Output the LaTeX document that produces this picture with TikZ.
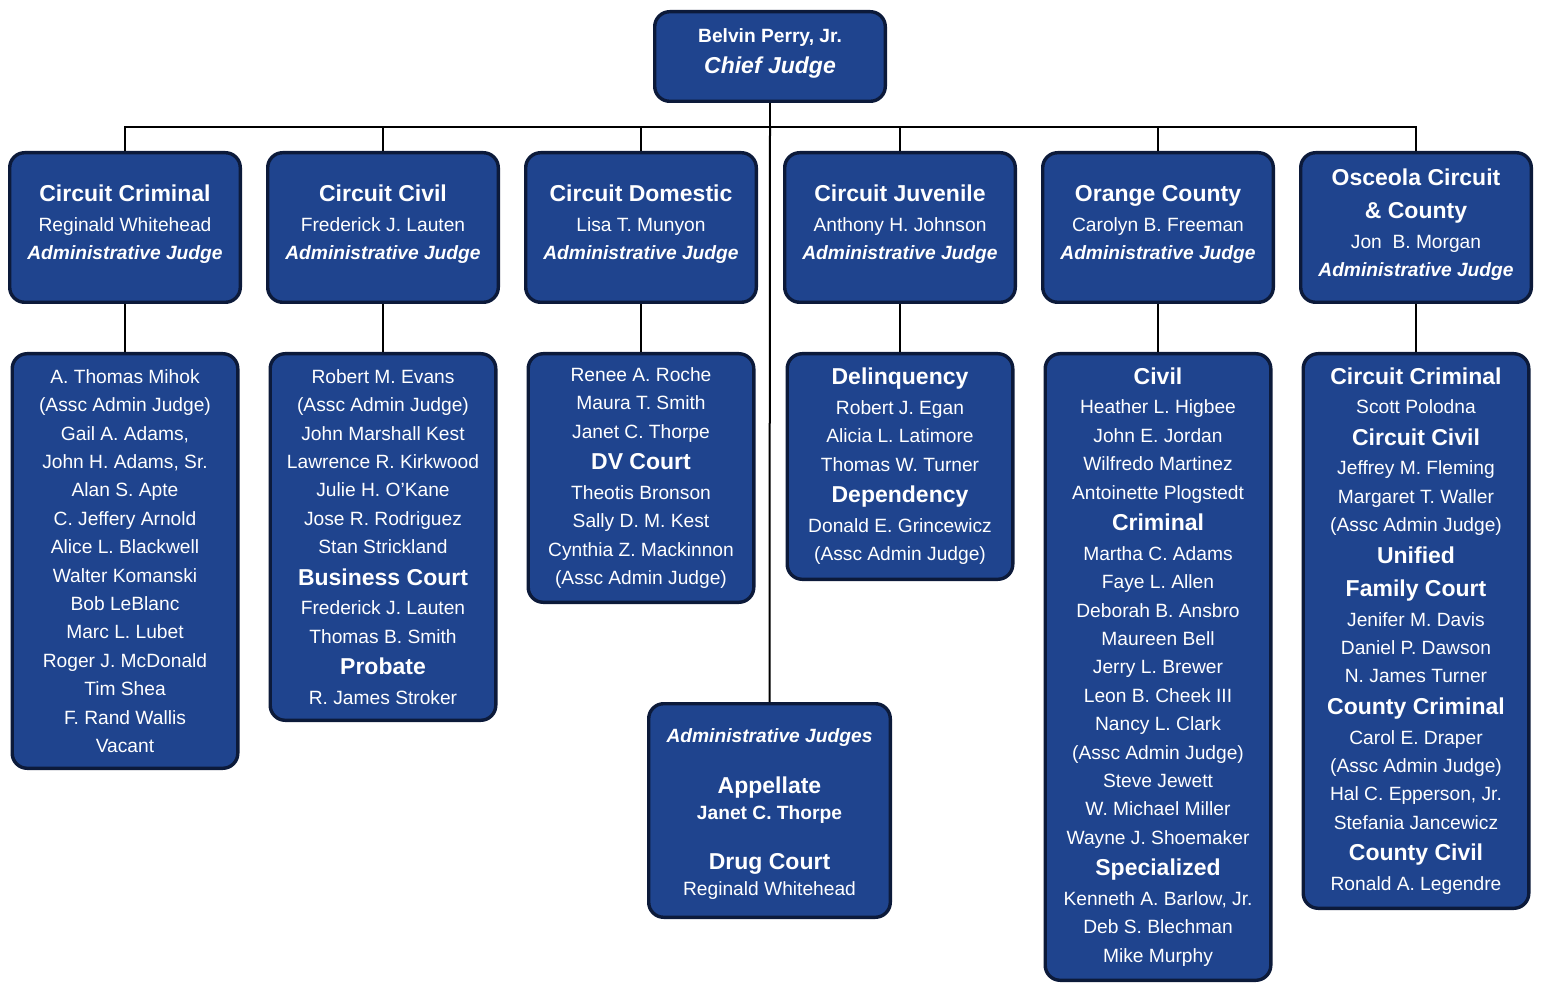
\documentclass[tikz,border=0pt]{standalone}
\usepackage{fontspec}
\setmainfont{Liberation Sans}
\definecolor{boxfill}{RGB}{31,68,142}
\definecolor{boxedge}{RGB}{12,26,58}
\newcommand{\court}[1]{{\bfseries\fontsize{11.5}{14.2}\selectfont #1}}
\newcommand{\admj}{\textbf{\textit{Administrative Judge}}}

\begin{document}
\begin{tikzpicture}[x=0.5pt,y=-0.5pt,
  judge/.style={draw=boxedge,fill=boxfill,text=white,rounded corners=7.5pt,
    line width=1.7pt,align=center,inner sep=2pt,
    font=\fontsize{9.6}{14.2}\selectfont},
  headbox/.style={judge,minimum width=115.3pt,minimum height=74.8pt,
    execute at end node={\rule[-5pt]{0pt}{0pt}}},
  listbox/.style={judge,minimum width=112.8pt},
  link/.style={line width=1pt}]
\useasboundingbox (0,0) rectangle (1543,984);

% chief judge
\node[judge,minimum width=115.3pt,minimum height=44.8pt] (chief) at (770,56.5)
  {\textbf{Belvin Perry, Jr.}\\[1.3pt]\court{\textit{Chief Judge}}\rule[-5pt]{0pt}{0pt}};
\coordinate (bus) at (770,127);

% administrative judges by division
\node[headbox] (ccrim) at (125,227.5) {\court{Circuit Criminal}\\[0.6pt]Reginald Whitehead\\\admj};
\node[headbox] (cciv) at (383,227.5) {\court{Circuit Civil}\\[0.6pt]Frederick J. Lauten\\\admj};
\node[headbox] (cdom) at (641,227.5) {\court{Circuit Domestic}\\[0.6pt]Lisa T. Munyon\\\admj};
\node[headbox] (cjuv) at (900,227.5) {\court{Circuit Juvenile}\\[0.6pt]Anthony H. Johnson\\\admj};
\node[headbox] (orange) at (1158,227.5) {\court{Orange County}\\[0.6pt]Carolyn B. Freeman\\\admj};
\node[headbox] (osceola) at (1416,227.5) {\court{Osceola Circuit}\\[2.4pt]\court{\& County}\\[0.6pt]Jon\ \ B. Morgan\\\admj};

% judges of each division
\node[listbox,minimum height=207.3pt] (ccrimj) at (125,561)
  {A. Thomas Mihok\\(Assc Admin Judge)\\Gail A. Adams,\\John H. Adams, Sr.\\Alan S. Apte\\C. Jeffery Arnold\\Alice L. Blackwell\\Walter Komanski\\Bob LeBlanc\\Marc L. Lubet\\Roger J. McDonald\\Tim Shea\\F. Rand Wallis\\Vacant};
\node[listbox,minimum height=183.3pt] (ccivj) at (383,537)
  {Robert M. Evans\\(Assc Admin Judge)\\John Marshall Kest\\Lawrence R. Kirkwood\\Julie H. O'Kane\\Jose R. Rodriguez\\Stan Strickland\\[1.6pt]\court{Business Court}\\[0.6pt]Frederick J. Lauten\\Thomas B. Smith\\[1.6pt]\court{Probate}\\[0.6pt]R. James Stroker};
\node[listbox,minimum height=124.3pt] (cdomj) at (641,478)
  {Renee A. Roche\\Maura T. Smith\\Janet C. Thorpe\\[1.6pt]\court{DV Court}\\[0.6pt]Theotis Bronson\\Sally D. M. Kest\\Cynthia Z. Mackinnon\\(Assc Admin Judge)};
\node[listbox,minimum height=112.8pt] (cjuvj) at (900,466.5)
  {\court{Delinquency}\\[0.6pt]Robert J. Egan\\Alicia L. Latimore\\Thomas W. Turner\\[1.6pt]\court{Dependency}\\[0.6pt]Donald E. Grincewicz\\(Assc Admin Judge)};
\node[listbox,minimum height=313.3pt] (orangej) at (1158,667)
  {\court{Civil}\\[0.6pt]Heather L. Higbee\\John E. Jordan\\Wilfredo Martinez\\Antoinette Plogstedt\\[1.6pt]\court{Criminal}\\[0.6pt]Martha C. Adams\\Faye L. Allen\\Deborah B. Ansbro\\Maureen Bell\\Jerry L. Brewer\\Leon B. Cheek III\\Nancy L. Clark\\(Assc Admin Judge)\\Steve Jewett\\W. Michael Miller\\Wayne J. Shoemaker\\[1.6pt]\court{Specialized}\\[0.6pt]Kenneth A. Barlow, Jr.\\Deb S. Blechman\\Mike Murphy};
\node[listbox,minimum height=277.3pt] (osceolaj) at (1416,631)
  {\court{Circuit Criminal}\\[0.6pt]Scott Polodna\\[1.6pt]\court{Circuit Civil}\\[0.6pt]Jeffrey M. Fleming\\Margaret T. Waller\\(Assc Admin Judge)\\[1.6pt]\court{Unified}\\[2.4pt]\court{Family Court}\\[0.6pt]Jenifer M. Davis\\Daniel P. Dawson\\N. James Turner\\[1.6pt]\court{County Criminal}\\[0.6pt]Carol E. Draper\\(Assc Admin Judge)\\Hal C. Epperson, Jr.\\Stefania Jancewicz\\[1.6pt]\court{County Civil}\\[0.6pt]Ronald A. Legendre};

\node[judge,minimum width=120.8pt,minimum height=106.8pt] (adm) at (769.5,810.5)
  {\rule{0pt}{10pt}\textbf{\textit{Administrative Judges}}\\[11.3pt]\court{Appellate}\\[-1.2pt]\textbf{Janet C. Thorpe}\\[10.8pt]\court{Drug Court}\\[-1.2pt]Reginald Whitehead};

% connectors
\draw[link] (chief.south) -- (bus);
\foreach \d in {ccrim,cciv,cdom,cjuv,orange,osceola}
  \draw[link] (bus) -| (\d.north);
\foreach \d in {ccrim,cciv,cdom,cjuv,orange,osceola}
  \draw[link] (\d.south) -- (\d j.north);
\draw[link] (bus) -- (adm.north);
\end{tikzpicture}
\end{document}
